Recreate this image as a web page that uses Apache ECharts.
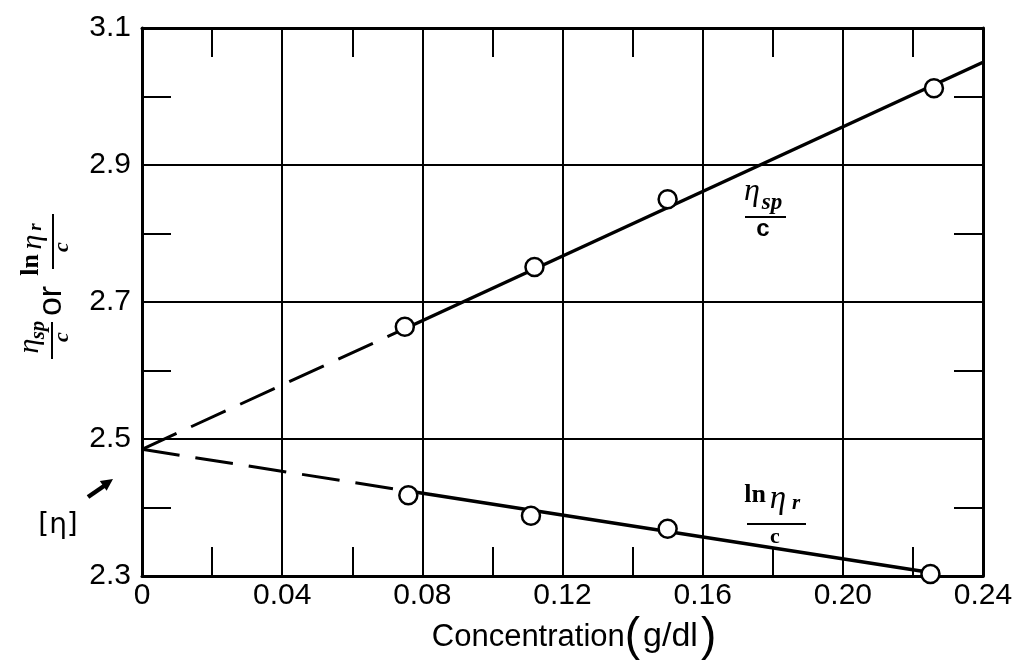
<!DOCTYPE html>
<html>
<head>
<meta charset="utf-8">
<script src="https://cdn.jsdelivr.net/npm/echarts@6/dist/echarts.min.js"></script>
<style>
  html, body { margin: 0; padding: 0; background: #fff; }
  #chart { width: 1026px; height: 664px; }
</style>
</head>
<body>
<div id="chart"></div>
<script>
// Measured points: concentration (g/dl) vs reduced viscosity (eta_sp / c)
const concSp = [0.075, 0.112, 0.150, 0.226];
const reducedVisc = [2.664, 2.751, 2.850, 3.012];

// Measured points: concentration (g/dl) vs inherent viscosity (ln eta_r / c)
const concLn = [0.076, 0.111, 0.150, 0.225];
const inherentVisc = [2.418, 2.388, 2.369, 2.303];

// Straight-line fits: dashed extrapolation to c = 0, solid over the measured range
const spExtrapX = [0, 0.075];
const spExtrapY = [2.485, 2.661];
const spFitX = [0.075, 0.24];
const spFitY = [2.661, 3.050];
const lnExtrapX = [0, 0.076];
const lnExtrapY = [2.485, 2.424];
const lnFitX = [0.076, 0.225];
const lnFitY = [2.424, 2.305];

// Tick labels
const xTickLabels = ['0', '0.04', '0.08', '0.12', '0.16', '0.20', '0.24'];
const yTickLabels = ['2.3', '2.5', '2.7', '2.9', '3.1'];

const zip = (xs, ys) => xs.map((x, i) => [x, ys[i]]);

const SANS = "'Liberation Sans', Arial, sans-serif";
const SERIF = "'Liberation Serif', 'DejaVu Serif', serif";
const INK = '#000';

function labelAt(list, start, step) {
  return function (v) {
    const k = (v - start) / step;
    const i = Math.round(k);
    return Math.abs(k - i) < 1e-6 && i >= 0 && i < list.length ? list[i] : '';
  };
}

const tickStyle = { show: true, inside: true, length: 29, lineStyle: { color: INK, width: 2 } };
const borderLine = { show: true, onZero: false, lineStyle: { color: INK, width: 3 } };

const chart = echarts.init(document.getElementById('chart'), null, { renderer: 'canvas' });

const lineSeries = (xs, ys, dashed) => ({
  type: 'line',
  data: zip(xs, ys),
  symbol: 'none',
  silent: true,
  z: 3,
  lineStyle: { color: INK, width: dashed ? 3 : 3.5, type: dashed ? [38, 16] : 'solid', cap: 'butt' }
});

const pointSeries = (xs, ys) => ({
  type: 'scatter',
  data: zip(xs, ys),
  symbol: 'circle',
  symbolSize: 18,
  z: 5,
  itemStyle: { color: '#fff', borderColor: INK, borderWidth: 2.5, opacity: 1 }
});

// Small helpers for graphic text and rules
const txt = (x, y, text, font) => ({
  type: 'text', x: x, y: y,
  style: { text: text, font: font, fill: INK, align: 'center', verticalAlign: 'middle' }
});
const bar = (x1, y1, x2, y2, w) => ({
  type: 'line', shape: { x1: x1, y1: y1, x2: x2, y2: y2 },
  style: { stroke: INK, lineWidth: w || 2 }
});

const option = {
  backgroundColor: '#fff',
  animation: false,
  grid: { left: 142, right: 43, top: 28, bottom: 88, containLabel: false, outerBoundsMode: 'none' },
  xAxis: [
    {
      type: 'value', min: 0, max: 0.24, interval: 0.02, position: 'bottom',
      axisLine: borderLine,
      axisTick: tickStyle,
      axisLabel: {
        formatter: labelAt(xTickLabels, 0, 0.04),
        color: INK, fontSize: 30, fontFamily: SANS, margin: 5,
        showMinLabel: true, showMaxLabel: true
      },
      splitLine: { show: true, lineStyle: { color: [INK, 'rgba(0,0,0,0)'], width: 2 } }
    },
    {
      type: 'value', min: 0, max: 0.24, interval: 0.02, position: 'top',
      axisLine: borderLine,
      axisTick: tickStyle,
      axisLabel: { show: false },
      splitLine: { show: false }
    }
  ],
  yAxis: [
    {
      type: 'value', min: 2.3, max: 3.1, interval: 0.1, position: 'left',
      axisLine: borderLine,
      axisTick: tickStyle,
      axisLabel: {
        formatter: labelAt(yTickLabels, 2.3, 0.2),
        color: INK, fontSize: 30, fontFamily: SANS, margin: 11,
        showMinLabel: true, showMaxLabel: true
      },
      splitLine: { show: true, lineStyle: { color: [INK, 'rgba(0,0,0,0)'], width: 2 } }
    },
    {
      type: 'value', min: 2.3, max: 3.1, interval: 0.1, position: 'right',
      axisLine: borderLine,
      axisTick: tickStyle,
      axisLabel: { show: false },
      splitLine: { show: false }
    }
  ],
  series: [
    lineSeries(spExtrapX, spExtrapY, true),
    lineSeries(spFitX, spFitY, false),
    lineSeries(lnExtrapX, lnExtrapY, true),
    lineSeries(lnFitX, lnFitY, false),
    pointSeries(concSp, reducedVisc),
    pointSeries(concLn, inherentVisc)
  ],
  graphic: [
    // x-axis title
    {
      type: 'text', x: 574, y: 637,
      style: {
        text: '{t|Concentration}{p|(}{u|g/dl}{p|)}',
        align: 'center', verticalAlign: 'middle', fill: INK,
        rich: {
          t: { fontSize: 31, fontFamily: SANS, fill: INK, verticalAlign: 'middle' },
          u: { fontSize: 34, fontFamily: SANS, fill: INK, verticalAlign: 'middle', padding: [0, 3] },
          p: { fontSize: 46, fontFamily: SANS, fill: INK, verticalAlign: 'middle' }
        }
      }
    },
    // y-axis title, written upwards: eta_sp / c  or  ln eta_r / c
    {
      type: 'group', x: 40, y: 287, rotation: Math.PI / 2,
      children: [
        txt(-59, -10, 'η', 'italic 30px ' + SERIF),
        txt(-43, -1, 'sp', 'italic bold 21px ' + SERIF),
        bar(-72, 12, -35, 12, 2),
        txt(-50, 22, 'c', 'italic bold 22px ' + SERIF),
        txt(-14, 12, 'or', '34px ' + SANS),
        txt(22, -9, 'ln', 'bold 26px ' + SERIF),
        txt(45, -7, 'η', 'italic 30px ' + SERIF),
        txt(60, -4, 'r', 'italic bold 19px ' + SERIF),
        bar(18, 13, 73, 13, 2),
        txt(40, 22, 'c', 'italic bold 22px ' + SERIF)
      ]
    },
    // curve label: eta_sp / c
    txt(752, 192, 'η', 'italic 32px ' + SERIF),
    txt(772, 203, 'sp', 'italic bold 23px ' + SERIF),
    bar(745, 217, 786, 217, 2),
    txt(763, 229, 'c', 'bold 24px ' + SANS),
    // curve label: ln eta_r / c
    txt(755, 495, 'ln', 'bold 26px ' + SERIF),
    txt(778, 499, 'η', 'italic 33px ' + SERIF),
    txt(796, 504, 'r', 'italic bold 21px ' + SERIF),
    bar(747, 524, 806, 524, 2),
    txt(775, 537, 'c', 'bold 22px ' + SERIF),
    // intrinsic viscosity marker
    txt(58, 526, '[η]', '28px ' + "'DejaVu Sans', sans-serif"),
    bar(88, 497, 104, 486, 4.5),
    {
      type: 'polygon',
      shape: { points: [[113, 479], [106.6, 490.7], [99.8, 480.9]] },
      style: { fill: INK }
    }
  ]
};

chart.setOption(option);
</script>
</body>
</html>
